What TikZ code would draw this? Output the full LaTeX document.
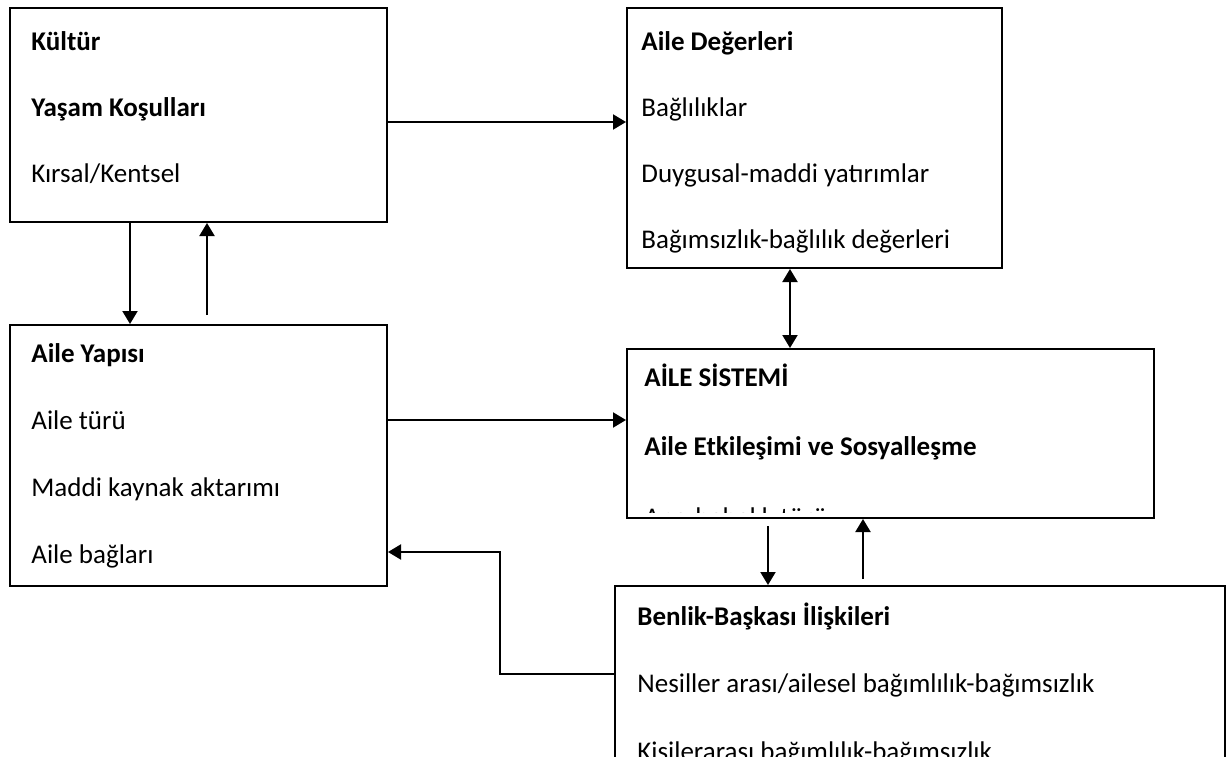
\documentclass[tikz,border=0pt]{standalone}
\usepackage{fontspec}
\setmainfont{Carlito}
\usetikzlibrary{arrows.meta}

\begin{document}
\begin{tikzpicture}[x=0.5pt,y=-0.5pt]
\tikzstyle{box}=[draw=black,line width=1pt,rectangle,inner sep=0pt]
\tikzstyle{txt}=[anchor=base west,inner sep=0pt,font=\fontsize{13.5pt}{16pt}\selectfont]
\tikzstyle{head}=[txt,font=\fontsize{13.5pt}{16pt}\selectfont\bfseries]
\tikzstyle{arr}=[line width=1pt,>={Triangle[length=6.5pt,width=7.5pt]}]
\clip (0,0) rectangle (1227,756);
% boxes
\node[box,minimum width=188.5pt,minimum height=107pt] (kultur) at (198.5,115) {};
\node[box,minimum width=187.5pt,minimum height=130pt] (degerler) at (814.5,138) {};
\node[box,minimum width=188.5pt,minimum height=130.5pt] (yapi) at (198.5,455.5) {};
\node[box,minimum width=263.5pt,minimum height=84.5pt] (sistem) at (890.5,433.5) {};
\node[box,minimum width=305pt,minimum height=107pt] (benlik) at (920,693) {};
% texts
\node[head] (kultur1) at (31,50) {Kültür};
\node[head] (kultur2) at (31,116) {Yaşam Koşulları};
\node[txt] (kultur3) at (31,182) {Kırsal/Kentsel};
\node[head] (degerler1) at (641,50) {Aile Değerleri};
\node[txt] (degerler2) at (641,116) {Bağlılıklar};
\node[txt] (degerler3) at (641,182) {Duygusal-maddi yatırımlar};
\node[txt] (degerler4) at (641,248) {Bağımsızlık-bağlılık değerleri};
\node[head] (yapi1) at (31,362) {Aile Yapısı};
\node[txt] (yapi2) at (31,429) {Aile türü};
\node[txt] (yapi3) at (31,496) {Maddi kaynak aktarımı};
\node[txt] (yapi4) at (31,563) {Aile bağları};
\node[head] (sistem1) at (644,386) {AİLE SİSTEMİ};
\node[head] (sistem2) at (644,455) {Aile Etkileşimi ve Sosyalleşme};
\begin{scope}
\clip (627,349) rectangle (1154,512);
\node[txt] (sistem3) at (644,526) {Ana-babalık türü};
\end{scope}
\node[head] (benlik1) at (637,625) {Benlik-Başkası İlişkileri};
\node[txt] (benlik2) at (637,692) {Nesiller arası/ailesel bağımlılık-bağımsızlık};
\node[txt] (benlik3) at (637,760) {Kişilerarası bağımlılık-bağımsızlık};
% arrows
\draw[arr,->] ([yshift=-3.5pt]kultur.east) -- ([yshift=-3.5pt]kultur.east -| degerler.west);
\draw[arr,->] ([xshift=-34.25pt]kultur.south) -- ([xshift=-34.25pt]kultur.south |- yapi.north);
\draw[arr,->] ([xshift=4.25pt,yshift=4.5pt]kultur.south |- yapi.north) -- ([xshift=4.25pt]kultur.south);
\draw[arr,<->] ([xshift=-12.25pt]degerler.south) -- ([xshift=-12.25pt]degerler.south |- sistem.north);
\draw[arr,->] ([yshift=6.75pt]sistem.west -| yapi.east) -- ([yshift=6.75pt]sistem.west);
\draw[arr,->] ([xshift=-61.25pt,yshift=-3.5pt]sistem.south) -- ([xshift=-61.25pt]sistem.south |- benlik.north);
\draw[arr,->] ([xshift=-13.75pt,yshift=-30pt]sistem.south) -- ([xshift=-13.75pt]sistem.south);
\coordinate (bend) at (500,552);
\draw[arr,->] ([yshift=9.5pt]benlik.west) -| (bend) -- (bend -| yapi.east);
\end{tikzpicture}
\end{document}
